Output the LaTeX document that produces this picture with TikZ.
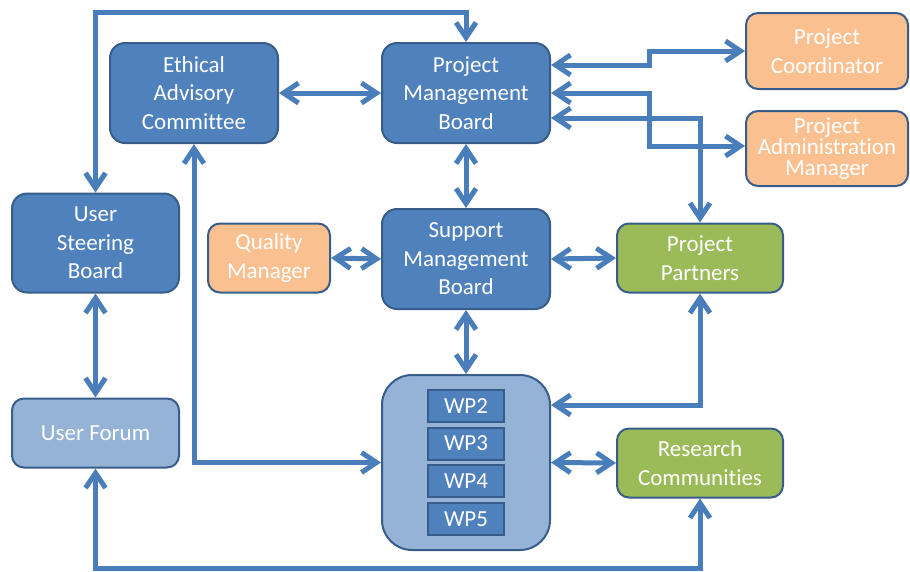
\documentclass[tikz,border=0pt]{standalone}
\usepackage{fontspec}
\setmainfont{Carlito}[Ligatures=NoCommon]
\usetikzlibrary{arrows.meta}
\definecolor{boxblue}{HTML}{4F81BD}
\definecolor{boxborder}{HTML}{385D8A}
\definecolor{lightblue}{HTML}{95B3D7}
\definecolor{orangefill}{HTML}{FAC090}
\definecolor{greenfill}{HTML}{9BBB59}
\definecolor{arrowc}{HTML}{4A7EBB}
\tikzset{
  base/.style={draw=boxborder, line width=2pt, text=white, align=center, inner sep=0pt,
    font=\fontsize{23}{28.5}\selectfont},
  bigbox/.style={base, fill=boxblue, rounded corners=15pt, minimum width=168pt, minimum height=100pt},
  orbox/.style={base, fill=orangefill, rounded corners=12pt},
  grbox/.style={base, fill=greenfill, rounded corners=12pt, minimum width=166pt, minimum height=69pt},
  wpbox/.style={base, fill=boxblue, minimum width=76pt, minimum height=32pt},
  bi/.style={draw=arrowc, line width=5pt,
    {Straight Barb[length=15pt,width=20pt]}-{Straight Barb[length=15pt,width=20pt]}},
}
\begin{document}
\begin{tikzpicture}[x=1pt,y=-1pt]
\useasboundingbox (0,0) rectangle (910,571);
\node[bigbox] (EAC) at (194,93) {Ethical\\Advisory\\Committee};
\node[bigbox] (PMB) at (466,93) {Project\\Management\\Board};
\node[orbox, minimum width=162pt, minimum height=76pt] (PC) at (827,51) {Project\\Coordinator};
\node[orbox, minimum width=162pt, minimum height=75pt, font=\fontsize{23}{21}\selectfont] (PAM) at (827,148.5) {Project\\Administration\\Manager};
\node[bigbox, minimum width=167pt, minimum height=99pt] (USB) at (95.5,243) {User\\Steering\\Board};
\node[orbox, minimum width=122pt, minimum height=69pt] (QM) at (269,258) {Quality\\Manager};
\node[bigbox] (SMB) at (466,259) {Support\\Management\\Board};
\node[grbox] (PP) at (700,258) {Project\\Partners};
\node[base, fill=lightblue, rounded corners=12pt, minimum width=167pt, minimum height=69pt] (UF) at (95.5,433) {User Forum};
\node[base, fill=lightblue, rounded corners=30pt, minimum width=168pt, minimum height=175pt] (WP) at (466,462.5) {};
\node[wpbox] (WP2) at (466,406) {WP2};
\node[wpbox] (WP3) at (466,443.5) {WP3};
\node[wpbox] (WP4) at (466,481) {WP4};
\node[wpbox] (WP5) at (466,519) {WP5};
\node[grbox] (RC) at (700,463) {Research\\Communities};
\coordinate (topy) at (0,12.5);
\coordinate (boty) at (0,568.5);
\draw[bi] (USB.north) |- (PMB.north |- topy) -- (PMB.north);
\draw[bi] (EAC.east) -- (PMB.west);
\draw[bi] (EAC.south) |- (WP.west);
\draw[bi] (PMB.south) -- (SMB.north);
\draw[bi] (QM.east) -- (SMB.west);
\draw[bi] (SMB.east) -- (PP.west);
\draw[bi] (SMB.south) -- (WP.north);
\draw[bi] (USB.south) -- (UF.north);
\draw[bi] (UF.south) -- (UF.south |- boty) -| (RC.south);
\draw[bi] (WP.east) -- (RC.west);
\draw[bi] (PP.south) |- ([yshift=57.5pt]WP.east);
\draw[bi] ([yshift=28pt]PMB.east) -- ++(98,0) |- (PC.west);
\draw[bi] (PMB.east) -- ++(98,0) |- ([yshift=2.5pt]PAM.west);
\draw[bi] ([yshift=-25pt]PMB.east) -| (PP.north);
\end{tikzpicture}
\end{document}
